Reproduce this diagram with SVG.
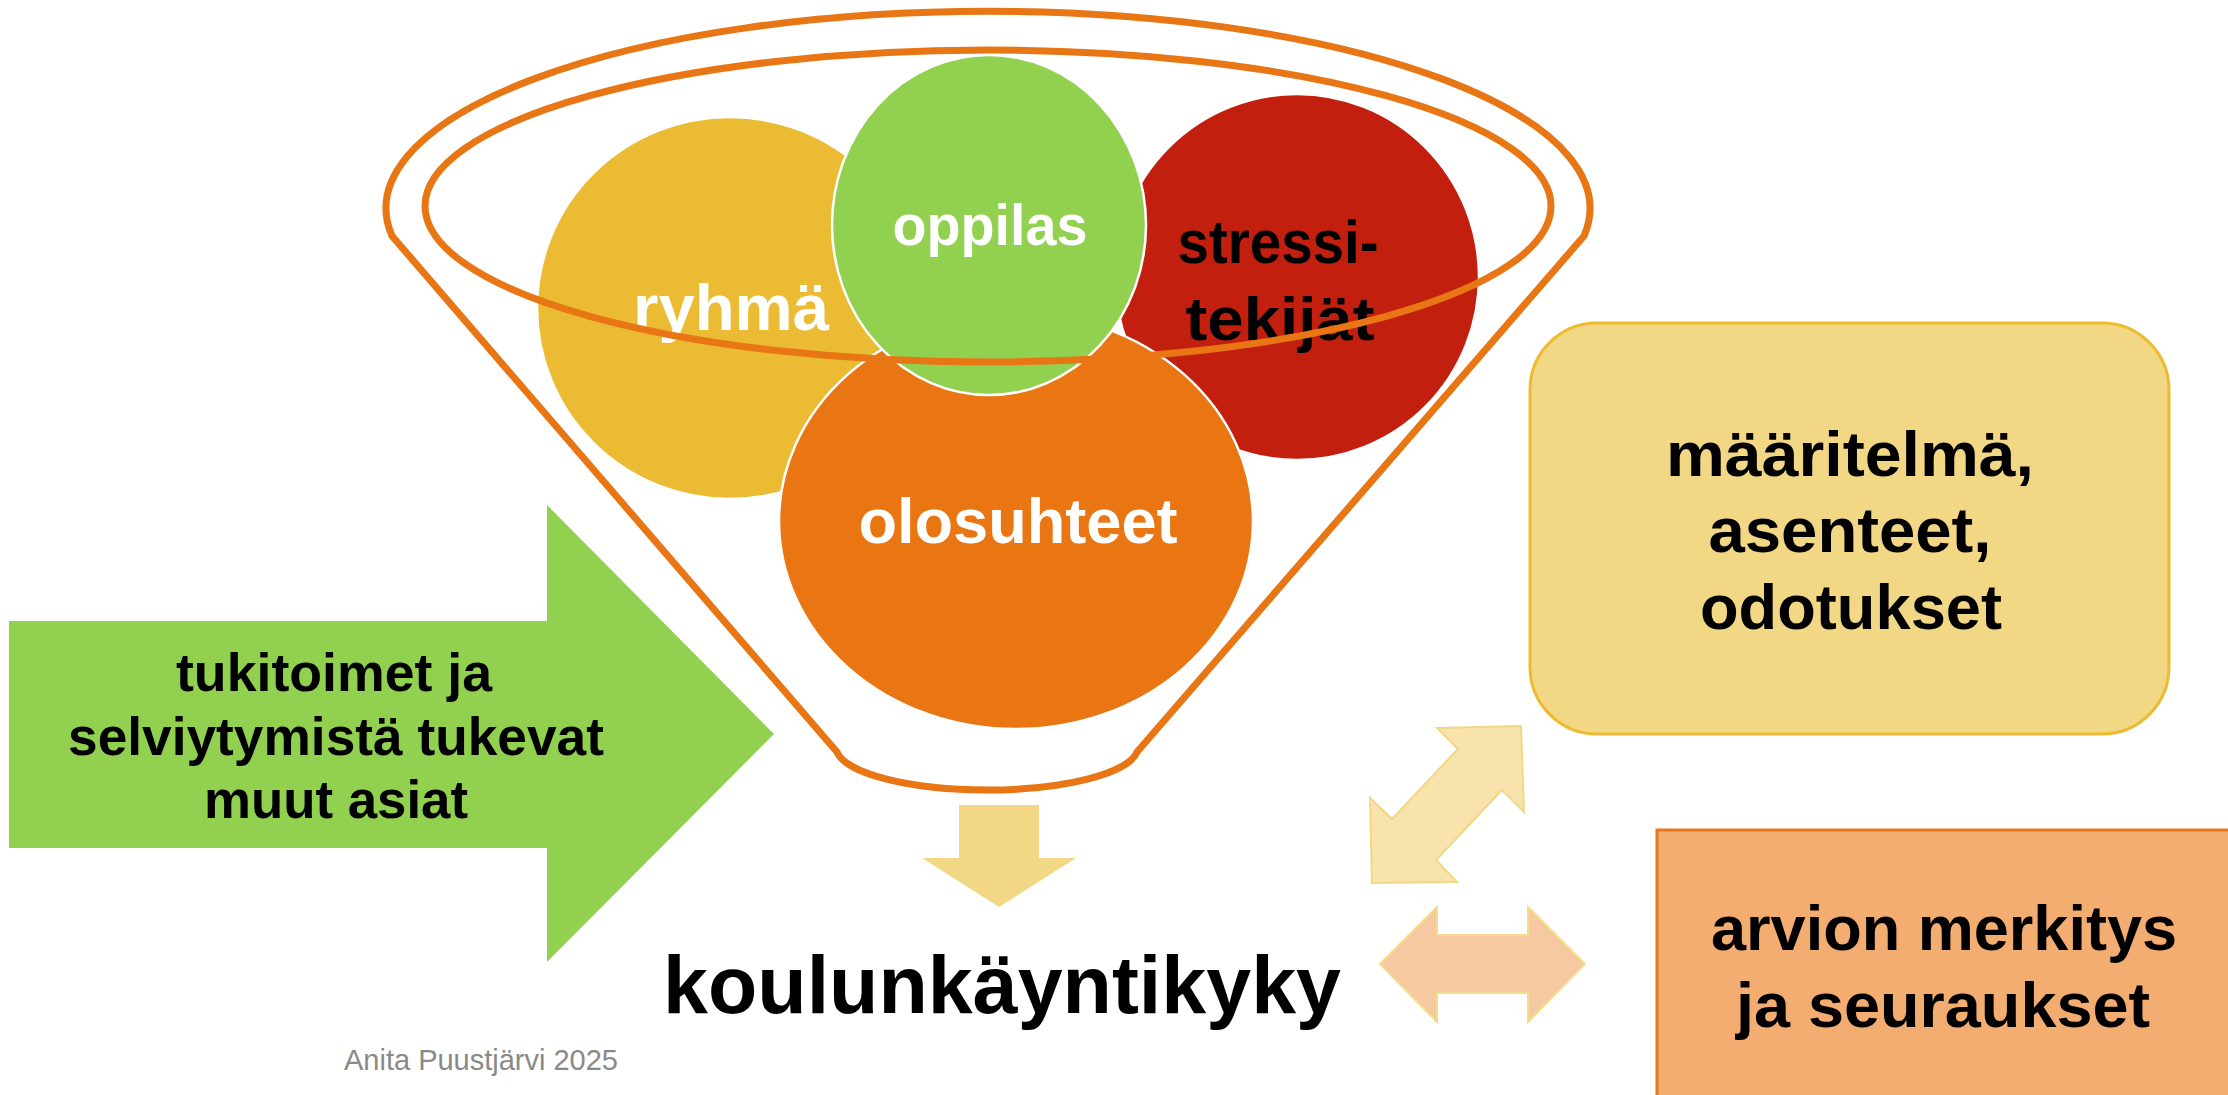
<svg xmlns="http://www.w3.org/2000/svg" width="2228" height="1095" viewBox="0 0 2228 1095">
<style>
  .b { font-family: "Liberation Sans", Arial, sans-serif; font-weight: bold; text-anchor: middle; }
  .w { fill: #FFFFFF; }
  .k { fill: #000000; }
  .circ { stroke: #FFFFFF; stroke-width: 2.5; }
  .rim { fill: none; stroke: #E97614; stroke-width: 7; stroke-linejoin: round; }
</style>
<rect x="0" y="0" width="2228" height="1095" fill="#FFFFFF"/>

<g id="ryhma">
  <ellipse class="circ" cx="730" cy="308" rx="193" ry="191" fill="#EBBC33"/>
</g>
<g id="stressitekijat">
  <ellipse class="circ" cx="1297" cy="277" rx="182" ry="183" fill="#C21F0E"/>
</g>
<g id="olosuhteet">
  <ellipse class="circ" cx="1016" cy="521" rx="237" ry="208" fill="#E97613"/>
</g>
<g id="oppilas">
  <ellipse class="circ" cx="989" cy="225" rx="157" ry="170" fill="#92D050"/>
</g>

<g id="circle-labels">
  <text class="b w" x="731" y="330" font-size="64" textLength="196" lengthAdjust="spacingAndGlyphs">ryhmä</text>
  <text class="b k" x="1278" y="263" font-size="62" textLength="201" lengthAdjust="spacingAndGlyphs">stressi-</text>
  <text class="b k" x="1280" y="340" font-size="62" textLength="189" lengthAdjust="spacingAndGlyphs">tekijät</text>
  <text class="b w" x="990" y="245" font-size="57" textLength="195" lengthAdjust="spacingAndGlyphs">oppilas</text>
  <text class="b w" x="1018" y="543" font-size="63" textLength="319" lengthAdjust="spacingAndGlyphs">olosuhteet</text>
</g>

<g id="funnel">
  <path class="rim" d="M 837 752 L 392 236 A 602 197 0 1 1 1584 236 L 1137 752 A 151 43 0 0 1 837 752 Z"/>
  <ellipse class="rim" cx="988" cy="206" rx="563" ry="156"/>
</g>

<g id="tukitoimet">
  <polygon points="9,621 547,621 547,505 774,734 547,962 547,848 9,848" fill="#92D050"/>
  <text class="b k" x="334" y="691" font-size="53" textLength="316" lengthAdjust="spacingAndGlyphs">tukitoimet ja</text>
  <text class="b k" x="336" y="755" font-size="53" textLength="536" lengthAdjust="spacingAndGlyphs">selviytymistä tukevat</text>
  <text class="b k" x="336" y="818" font-size="53" textLength="264" lengthAdjust="spacingAndGlyphs">muut asiat</text>
</g>

<g id="maaritelma">
  <rect x="1530" y="323" width="639" height="411" rx="67" ry="67" fill="#F2D785" stroke="#EDBB32" stroke-width="3"/>
  <text class="b k" x="1850" y="476" font-size="63" textLength="368" lengthAdjust="spacingAndGlyphs">määritelmä,</text>
  <text class="b k" x="1850" y="552" font-size="63" textLength="283" lengthAdjust="spacingAndGlyphs">asenteet,</text>
  <text class="b k" x="1851" y="629" font-size="63" textLength="302" lengthAdjust="spacingAndGlyphs">odotukset</text>
</g>

<g id="arvion">
  <rect x="1657" y="830" width="600" height="300" fill="#F3AD71" stroke="#E9761A" stroke-width="3"/>
  <text class="b k" x="1944" y="950" font-size="63" textLength="466" lengthAdjust="spacingAndGlyphs">arvion merkitys</text>
  <text class="b k" x="1943" y="1027" font-size="63" textLength="414" lengthAdjust="spacingAndGlyphs">ja seuraukset</text>
</g>

<g id="koulunkayntikyky">
  <text class="b k" x="1002" y="1013" font-size="81" textLength="678" lengthAdjust="spacingAndGlyphs">koulunkäyntikyky</text>
</g>

<g id="connectors">
  <polygon points="959,805 1039,805 1039,858 1076,858 999,907 922,858 959,858" fill="#F2D785"/>
  <polygon points="1437,728 1521,726 1524,812 1502,790 1436,860 1457,882 1372,883 1370,798 1392,819 1458,749" fill="#F7E3AB" stroke="#F2D785" stroke-width="2" stroke-linejoin="miter"/>
  <polygon points="1380,964 1437,907 1437,935 1528,935 1528,907 1585,964 1528,1022 1528,993 1437,993 1437,1022" fill="#F7C9A0" stroke="#F3DC8C" stroke-width="2"/>
</g>

<g id="author">
  <text x="344" y="1070" font-family="'Liberation Sans', Arial, sans-serif" font-size="29" fill="#898989" textLength="274" lengthAdjust="spacingAndGlyphs">Anita Puustjärvi 2025</text>
</g>
</svg>
